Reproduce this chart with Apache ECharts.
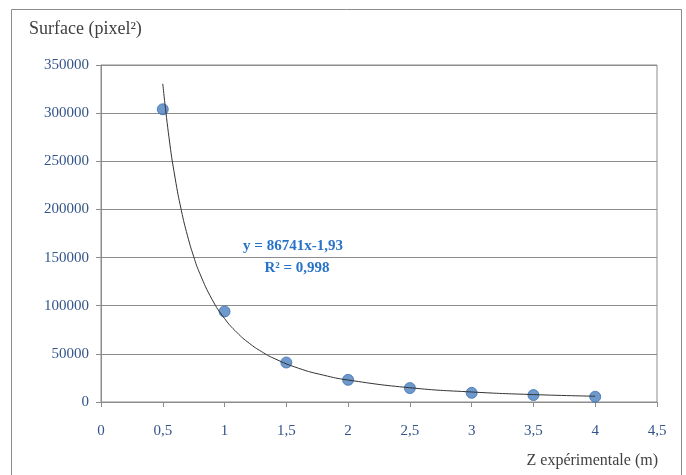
<!DOCTYPE html>
<html>
<head>
<meta charset="utf-8">
<script src="https://cdn.jsdelivr.net/npm/echarts@6/dist/echarts.min.js"></script>
<style>
    html, body { margin: 0; padding: 0; background: #fff; }
    #main { width: 686px; height: 475px; }
</style>
</head>
<body>
<div id="main"></div>
<script>
// mesures : distance Z (m) et surface (pixel²)
var zValues = [0.5, 1, 1.5, 2, 2.5, 3, 3.5, 4];
var surfaces = [304000, 94000, 41000, 23000, 14500, 9500, 7200, 5500];

// courbe de tendance (puissance)
var trendZ = [0.5, 0.55, 0.6, 0.65, 0.7, 0.75, 0.8, 0.9, 1, 1.1, 1.2, 1.3, 1.4, 1.6, 1.8, 2, 2.5, 3, 3.5, 4];
var trendS = [330500, 275000, 232500, 199200, 172700, 151100, 133400, 106300, 86700, 72200, 61000, 52300, 45300, 35000, 27900, 22800, 14800, 10400, 7700, 6000];

var equationText = 'y = 86741x-1,93';
var r2Text = 'R² = 0,998';

var myChart = echarts.init(document.getElementById('main'));

var labelColor = '#34558b';
var fontFam = '"Liberation Serif", "DejaVu Serif", serif';

option = {
    backgroundColor: '#fff',
    animation: false,
    grid: {
        left: 101,
        right: 29,
        top: 65,
        bottom: 73,
        show: true,
        borderColor: '#8c8c8c',
        borderWidth: 1
    },
    xAxis: {
        type: 'value',
        min: 0,
        max: 4.5,
        interval: 0.5,
        axisLine: {lineStyle: {color: '#8c8c8c'}},
        axisTick: {show: true, inside: false, length: 5, lineStyle: {color: '#8c8c8c'}},
        splitLine: {show: false},
        axisLabel: {
            color: labelColor,
            fontFamily: fontFam,
            fontSize: 15,
            margin: 22,
            formatter: function (v) { return String(v).replace('.', ','); }
        }
    },
    yAxis: {
        type: 'value',
        min: 0,
        max: 350000,
        interval: 50000,
        axisLine: {show: true, lineStyle: {color: '#8c8c8c'}},
        axisTick: {show: true, inside: false, length: 5, lineStyle: {color: '#8c8c8c'}},
        splitLine: {show: true, lineStyle: {color: '#8c8c8c', width: 1}},
        axisLabel: {
            color: labelColor,
            fontFamily: fontFam,
            fontSize: 15,
            margin: 12,
            formatter: function (v) { return String(v); }
        }
    },
    graphic: [
        {
            type: 'rect',
            silent: true,
            shape: {x: 11.5, y: 9.5, width: 670, height: 480},
            style: {fill: null, stroke: '#8c8c8c', lineWidth: 1}
        },
        {
            type: 'text',
            left: 29,
            top: 20,
            style: {text: 'Surface (pixel²)', fill: '#404040', font: '18px ' + fontFam}
        },
        {
            type: 'text',
            right: 28,
            top: 453,
            style: {text: 'Z expérimentale (m)', fill: '#404040', font: '16px ' + fontFam}
        },
        {
            type: 'text',
            x: 293,
            y: 246,
            style: {text: equationText, fill: '#2873c8', font: 'bold 15px ' + fontFam, align: 'center', verticalAlign: 'middle'}
        },
        {
            type: 'text',
            x: 297,
            y: 268,
            style: {text: r2Text, fill: '#2873c8', font: 'bold 15px ' + fontFam, align: 'center', verticalAlign: 'middle'}
        }
    ],
    series: [
        {
            name: 'Tendance',
            type: 'line',
            smooth: true,
            showSymbol: false,
            data: trendZ.map(function (z, i) { return [z, trendS[i]]; }),
            lineStyle: {color: '#333', width: 1}
        },
        {
            name: 'Surface',
            type: 'scatter',
            symbolSize: 11,
            data: zValues.map(function (z, i) { return [z, surfaces[i]]; }),
            itemStyle: {color: '#4a7fc1', borderColor: '#3d6fae', borderWidth: 1}
        }
    ]
};

myChart.setOption(option);
</script>
</body>
</html>
